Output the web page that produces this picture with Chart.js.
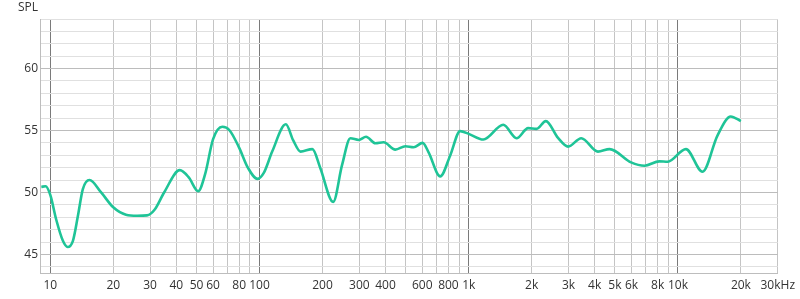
<!DOCTYPE html>
<html>
<head>
<meta charset="utf-8">
<script src="https://cdn.jsdelivr.net/npm/chart.js@4/dist/chart.umd.min.js"></script>
<style>
  html, body { margin: 0; padding: 0; background: #fff; }
  #wrap { width: 800px; height: 299px; }
</style>
</head>
<body>
<div id="wrap"><canvas id="chart" width="800" height="299"></canvas></div>
<script>
// frequency response
const freqs = [9.06, 9.5, 10.0, 10.68, 11.49, 12.1, 12.83, 13.55, 14.31, 15.4, 17.5, 20, 23, 26, 29, 31.5, 35, 41.6, 46, 50.9, 55, 60, 66.4, 72, 80, 88, 97.8, 105, 115, 133.6, 145, 157, 179, 195, 225, 248, 272, 298, 323, 358, 392, 446, 498, 545, 602, 643, 731, 815, 910, 1000, 1175, 1463, 1693, 1924, 2109, 2337, 2673, 2985, 3451, 4146, 4713, 5970, 6918, 8147, 8935, 10920, 13110, 15450, 17880, 20000];
const spl = [50.45, 50.5, 49.8, 47.8, 46.1, 45.6, 46.1, 48.1, 50.27, 51.0, 50.0, 48.8, 48.2, 48.12, 48.15, 48.6, 50.0, 51.8, 51.2, 50.1, 51.5, 54.3, 55.3, 55.0, 53.6, 52.0, 51.1, 51.6, 53.3, 55.5, 54.2, 53.3, 53.5, 52.0, 49.24, 52.2, 54.38, 54.24, 54.5, 53.97, 54.05, 53.46, 53.73, 53.65, 54.0, 53.24, 51.3, 52.97, 54.95, 54.73, 54.27, 55.46, 54.38, 55.19, 55.13, 55.76, 54.4, 53.7, 54.38, 53.3, 53.5, 52.43, 52.16, 52.51, 52.48, 53.5, 51.67, 54.59, 56.13, 55.76];

// axis ticks
const xGrid = [10, 20, 30, 40, 50, 60, 70, 80, 90, 100, 200, 300, 400, 500, 600, 700, 800, 900, 1000, 2000, 3000, 4000, 5000, 6000, 7000, 8000, 9000, 10000, 20000, 30000];
const xLabelValues = [10, 20, 30, 40, 50, 60, 80, 100, 200, 300, 400, 600, 800, 1000, 2000, 3000, 4000, 5000, 6000, 8000, 10000, 20000, 30000];
const xLabelTexts = ['10', '20', '30', '40', '50', '60', '80', '100', '200', '300', '400', '600', '800', '1k', '2k', '3k', '4k', '5k', '6k', '8k', '10k', '20k', '30kHz'];
const xDecades = [10, 100, 1000, 10000];
const yGrid = [44, 45, 46, 47, 48, 49, 50, 51, 52, 53, 54, 55, 56, 57, 58, 59, 60, 61, 62, 63, 64];
const yLabelValues = [45, 50, 55, 60];

const points = freqs.map((f, i) => ({ x: f, y: spl[i] }));

// "SPL" caption above the y labels
const splTitle = {
    id: 'splTitle',
    afterDraw(chart) {
        const ctx = chart.ctx;
        ctx.save();
        ctx.font = '12px "Open Sans"';
        ctx.fillStyle = '#333';
        ctx.textAlign = 'right';
        ctx.textBaseline = 'middle';
        ctx.fillText('SPL', 38, 8);
        ctx.restore();
    }
};

const ctx = document.getElementById('chart').getContext('2d');
new Chart(ctx, {
    type: 'line',
    data: {
        datasets: [{
            data: points,
            borderColor: '#1fc497',
            borderWidth: 2.6,
            pointRadius: 0,
            fill: false,
            cubicInterpolationMode: 'monotone'
        }]
    },
    options: {
        responsive: false,
        animation: false,
        layout: { padding: { top: 19, right: 20, left: 0, bottom: 0 } },
        plugins: {
            legend: { display: false },
            tooltip: { enabled: false }
        },
        scales: {
            x: {
                type: 'logarithmic',
                min: 8.93,
                max: 30000,
                afterBuildTicks: axis => { axis.ticks = xGrid.map(v => ({ value: v })); },
                afterFit: axis => { axis.height = 26; },
                ticks: {
                    autoSkip: false,
                    maxRotation: 0,
                    padding: 5,
                    color: '#333',
                    font: { family: '"Open Sans"', size: 12 },
                    callback: value => {
                        const i = xLabelValues.indexOf(value);
                        return i >= 0 ? xLabelTexts[i] : '';
                    }
                },
                grid: {
                    drawTicks: false,
                    color: c => xDecades.includes(c.tick.value) ? '#7a7a7a' : '#c4c4c4',
                    lineWidth: 1
                },
                border: { color: '#bdbdbd' }
            },
            y: {
                min: 43.5,
                max: 64,
                afterBuildTicks: axis => { axis.ticks = yGrid.map(v => ({ value: v })); },
                afterFit: axis => { axis.width = 40; },
                ticks: {
                    autoSkip: false,
                    padding: 2,
                    color: '#333',
                    font: { family: '"Open Sans"', size: 12 },
                    callback: value => yLabelValues.includes(value) ? String(value) : ''
                },
                grid: {
                    drawTicks: false,
                    color: c => yLabelValues.includes(c.tick.value) ? '#bcbcbc' : '#e0e0e0',
                    lineWidth: 1
                },
                border: { color: '#bdbdbd' }
            }
        }
    },
    plugins: [splTitle]
});
</script>
</body>
</html>
